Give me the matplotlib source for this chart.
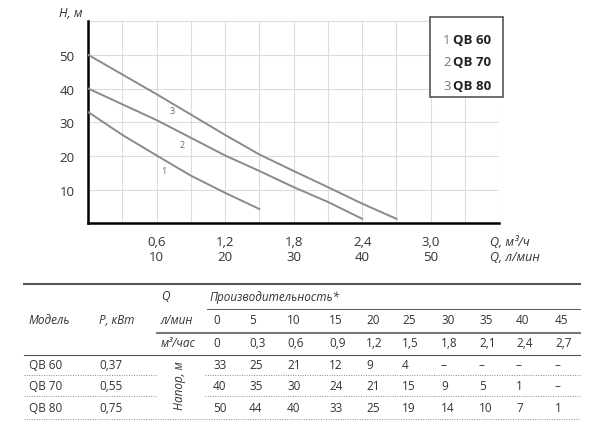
import matplotlib
matplotlib.use("Agg")
import matplotlib.pyplot as plt
from matplotlib.lines import Line2D

plt.rcParams['font.family'] = ['Open Sans', 'DejaVu Sans']

# table data
q_lmin = [0, 5, 10, 15, 20, 25, 30, 35, 40, 45]
q_m3h_txt = ["0", "0,3", "0,6", "0,9", "1,2", "1,5", "1,8", "2,1", "2,4", "2,7"]
models = ["QB 60", "QB 70", "QB 80"]
power = ["0,37", "0,55", "0,75"]
head = {
    "QB 60": [33, 25, 21, 12, 9, 4, None, None, None, None],
    "QB 70": [40, 35, 30, 24, 21, 15, 9, 5, 1, None],
    "QB 80": [50, 44, 40, 33, 25, 19, 14, 10, 7, 1],
}
# curves as drawn in the chart
curve_q = {
    "QB 60": [0, 0.3, 0.6, 0.9, 1.2, 1.5],
    "QB 70": [0, 0.6, 1.2, 1.5, 1.8, 2.1, 2.4],
    "QB 80": [0, 0.6, 1.2, 1.5, 1.8, 2.1, 2.4, 2.7],
}
curve_h = {
    "QB 60": [33, 26.2, 20.1, 14.1, 9.0, 4.2],
    "QB 70": [40, 30.6, 20.1, 15.5, 10.7, 6.3, 1.3],
    "QB 80": [50, 38.3, 26.2, 20.4, 15.5, 10.7, 5.8, 1.3],
}
curve_labels = [("1", 0.66, 15.5), ("2", 0.82, 23.5), ("3", 0.74, 33.5)]
xticks = [0.6, 1.2, 1.8, 2.4, 3.0]
xtick_m3 = ["0,6", "1,2", "1,8", "2,4", "3,0"]
xtick_lmin = ["10", "20", "30", "40", "50"]

fig = plt.figure(figsize=(6, 4.27), dpi=100)
ax = fig.add_axes([0.147, 0.475, 0.685, 0.473])
line_c = "#8a8a8a"
for m in models:
    ax.plot(curve_q[m], curve_h[m], color=line_c, lw=1.4, zorder=3)
for t, x, y in curve_labels:
    ax.text(x, y, t, fontsize=6.5, color="#666", ha="center", va="center")

ax.set_xlim(0, 3.6)
ax.set_ylim(0, 60)
ax.set_xticks([i * 0.3 for i in range(13)])
ax.set_yticks([10, 20, 30, 40, 50, 60])
ax.set_yticklabels(["10", "20", "30", "40", "50", ""], fontsize=9.5, color="#333")
ax.set_xticklabels([])
ax.tick_params(length=0, pad=10)
ax.grid(color="#dcdcdc", lw=0.8)
for s in ["top", "right"]:
    ax.spines[s].set_visible(False)
ax.spines["left"].set_linewidth(1.8)
ax.spines["bottom"].set_linewidth(1.8)
for x, a, b in zip(xticks, xtick_m3, xtick_lmin):
    ax.text(x, -5.3, a, ha="center", va="center", fontsize=9.5, color="#333")
    ax.text(x, -9.9, b, ha="center", va="center", fontsize=9.5, color="#333")
ax.text(3.52, -5.3, "Q, м³/ч", ha="left", va="center", fontsize=9, style="italic", color="#333", clip_on=False)
ax.text(3.52, -9.9, "Q, л/мин", ha="left", va="center", fontsize=9, style="italic", color="#333", clip_on=False)
ax.text(-0.05, 62.5, "H, м", ha="right", va="center", fontsize=9, style="italic", color="#333")

# legend box
fig.patches.append(plt.Rectangle((430 / 600, 1 - 98 / 427), 73 / 600, 80 / 427,
                                 transform=fig.transFigure, fc="white", ec="#555", lw=1.2, zorder=5))
for i, m in enumerate(models):
    y = 1 - (40 + i * 23) / 427
    fig.text(443 / 600, y, str(i + 1), fontsize=9.5, color="#777", va="center", zorder=6)
    fig.text(453 / 600, y, m, fontsize=9.5, color="#222", weight="bold", va="center", zorder=6)


def Y(p):
    return 1 - p / 427


def X(p):
    return p / 600


def hline(x0, x1, y, lw=0.8, c="#555", ls="-"):
    fig.add_artist(Line2D([X(x0), X(x1)], [Y(y), Y(y)], color=c, lw=lw, ls=ls))


fs = 8.5
hline(24, 580, 285, lw=1.5)
hline(207, 580, 310, lw=0.7)
hline(157, 580, 334, lw=1.5, c="#777")
hline(24, 580, 356, lw=0.8)
for y in (376, 397):
    hline(24, 157, y, lw=0.7, c="#888", ls=(0, (1, 1.5)))
    hline(205, 580, y, lw=0.7, c="#888", ls=(0, (1, 1.5)))
hline(24, 580, 420, lw=0.7, c="#888", ls=(0, (1, 1.5)))

fig.text(X(29), Y(321), "Модель", fontsize=fs, style="italic", va="center", color="#333")
fig.text(X(99), Y(321), "P, кВт", fontsize=fs, style="italic", va="center", color="#333")
fig.text(X(161), Y(297), "Q", fontsize=fs, style="italic", va="center", color="#333")
fig.text(X(210), Y(297), "Производительность*", fontsize=fs, style="italic", va="center", color="#333")
fig.text(X(161), Y(321), "л/мин", fontsize=fs, style="italic", va="center", color="#333")
fig.text(X(161), Y(344), "м³/час", fontsize=fs, style="italic", va="center", color="#333")
fig.text(X(180), Y(386), "Напор, м", fontsize=fs, style="italic", va="center", ha="center",
         rotation=90, color="#333")
col_x = [213, 249, 287, 329, 366, 402, 441, 479, 516, 555]
for cx, a, b in zip(col_x, q_lmin, q_m3h_txt):
    fig.text(X(cx), Y(321), str(a), fontsize=fs, va="center", color="#333")
    fig.text(X(cx), Y(344), b, fontsize=fs, va="center", color="#333")
row_y = [366, 387, 409]
for ry, m, p in zip(row_y, models, power):
    fig.text(X(29), Y(ry), m, fontsize=fs, va="center", color="#333")
    fig.text(X(99), Y(ry), p, fontsize=fs, va="center", color="#333")
    for cx, h in zip(col_x, head[m]):
        fig.text(X(cx), Y(ry), "–" if h is None else str(h), fontsize=fs, va="center", color="#333")

fig.savefig("out.png", dpi=100)
